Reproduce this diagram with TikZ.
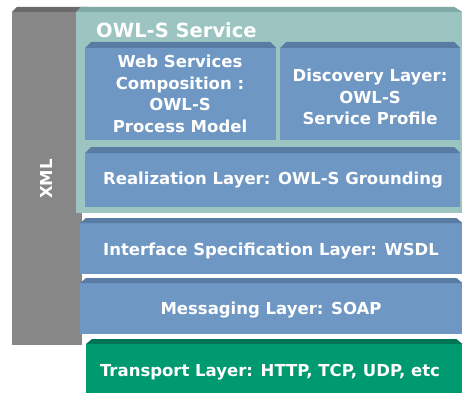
\documentclass[tikz,border=0pt]{standalone}
\usepackage{fontspec}
\setmainfont{DejaVu Sans}
\definecolor{layblue}{HTML}{6F97C4}
\definecolor{laybluetop}{HTML}{587CA4}
\definecolor{owlteal}{HTML}{9CC4C0}
\definecolor{owltealtop}{HTML}{80AAA6}
\definecolor{xmlgray}{HTML}{878787}
\definecolor{xmlgraytop}{HTML}{6A6A6A}
\definecolor{trgreen}{HTML}{009A70}
\definecolor{trgreentop}{HTML}{007555}
\tikzset{
  layer/.style={anchor=north west, inner sep=0pt, minimum width=#1},
  laytext/.style={text=white, inner sep=0pt, font=\bfseries\fontsize{16.5}{21.5}\selectfont, align=center},
}
\begin{document}
\begin{tikzpicture}[x=1pt,y=-1pt]
\useasboundingbox[fill=white] (0,0) rectangle (462,393);
% XML bar
\node[layer=70pt, minimum height=333pt, fill=xmlgray] (xml) at (12,12) {};
\fill[xmlgraytop] (xml.north west) -- ([xshift=5pt,yshift=5pt]xml.north west) -- ([xshift=6pt,yshift=5pt]xml.north east) -- (xml.north east) -- cycle;
\node[laytext, rotate=90] (xmllabel) at (46,179) {XML};
% OWL-S service panel
\node[layer=386pt, minimum height=201pt, fill=owlteal] (owl) at (76,12) {};
\fill[owltealtop] (owl.north west) -- ([xshift=5pt,yshift=5pt]owl.north west) -- ([xshift=-8pt,yshift=5pt]owl.north east) -- (owl.north east) -- cycle;
\node[laytext, anchor=west, font=\bfseries\fontsize{19.5}{22}\selectfont] (owltitle) at (96,30) {OWL-S Service};
% Web services composition
\node[layer=191pt, minimum height=92pt, fill=layblue] (wsc) at (85,48) {};
\fill[laybluetop] (wsc.north west) -- ([xshift=6pt,yshift=6pt]wsc.north west) -- ([xshift=-6pt,yshift=6pt]wsc.north east) -- (wsc.north east) -- cycle;
\node[laytext] (wsctext) at (180,94) {Web Services\\Composition :\\OWL-S\\Process Model};
% Discovery
\node[layer=180pt, minimum height=92pt, fill=layblue] (disc) at (280,48) {};
\fill[laybluetop] (disc.north west) -- ([xshift=6pt,yshift=6pt]disc.north west) -- ([xshift=-6pt,yshift=6pt]disc.north east) -- (disc.north east) -- cycle;
\node[laytext] (disctext) at (370,97) {Discovery Layer:\\OWL-S\\Service Profile};
% Realization
\node[layer=375pt, minimum height=54pt, fill=layblue] (real) at (85,153) {};
\fill[laybluetop] (real.north west) -- ([xshift=6pt,yshift=6pt]real.north west) -- ([xshift=-6pt,yshift=6pt]real.north east) -- (real.north east) -- cycle;
\node[laytext] (realtext) at (273,180) {Realization Layer: OWL-S Grounding};
% Interface
\node[layer=382pt, minimum height=51pt, fill=layblue] (intf) at (80,223) {};
\fill[laybluetop] (intf.north west) -- ([xshift=6pt,yshift=5pt]intf.north west) -- ([xshift=-6pt,yshift=5pt]intf.north east) -- (intf.north east) -- cycle;
\node[laytext] (intftext) at (271,251) {Interface Specification Layer: WSDL};
% Messaging
\node[layer=382pt, minimum height=51pt, fill=layblue] (msg) at (80,283) {};
\fill[laybluetop] (msg.north west) -- ([xshift=6pt,yshift=5pt]msg.north west) -- ([xshift=-6pt,yshift=5pt]msg.north east) -- (msg.north east) -- cycle;
\node[laytext] (msgtext) at (271,310) {Messaging Layer: SOAP};
% Transport
\node[layer=376pt, minimum height=49pt, fill=trgreen] (trans) at (86,344) {};
\fill[trgreentop] (trans.north west) -- ([xshift=6pt,yshift=5pt]trans.north west) -- ([xshift=-6pt,yshift=5pt]trans.north east) -- (trans.north east) -- cycle;
\node[laytext] (transtext) at (270,372) {Transport Layer: HTTP, TCP, UDP, etc};
\end{tikzpicture}
\end{document}
